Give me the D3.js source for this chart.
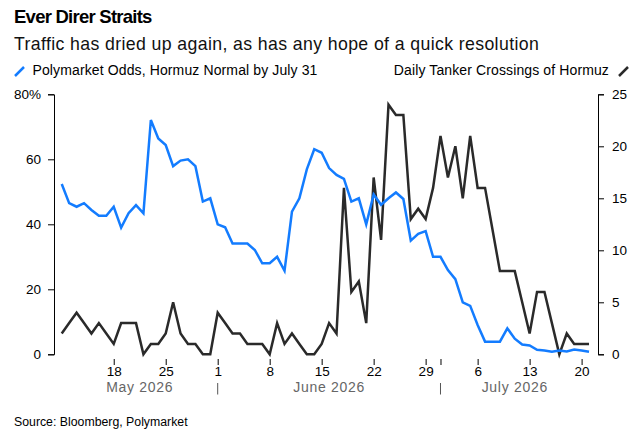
<!DOCTYPE html>
<html>
<head>
<meta charset="utf-8">
<script src="https://cdn.jsdelivr.net/npm/d3@7"></script>
<style>
  body { margin: 0; background: #fff; }
  svg { display: block; font-family: "Liberation Sans", Arial, sans-serif; }
</style>
</head>
<body>
<div id="chart"></div>
<script>
// daily observations, May 11 – July 21, 2026
const firstDay = new Date(2026, 4, 11);
const lastDay = new Date(2026, 6, 21);

// Polymarket odds (%) that Hormuz is back to normal by July 31
const odds = [
  52.4, 46.5, 45.4, 46.5, 44.4, 42.6, 42.6, 45.4, 39.0, 43.4, 45.9, 43.4,
  72.1, 66.4, 64.4, 57.9, 59.6, 60.0, 57.9, 47.0, 48.0, 40.0, 39.1, 34.1,
  34.1, 34.1, 32.1, 28.0, 28.0, 30.0, 25.7, 43.9, 48.0, 56.9, 63.1, 62.0,
  57.3, 55.2, 54.0, 47.0, 48.0, 40.0, 49.2, 46.0, 48.0, 49.8, 47.8, 35.0,
  37.1, 37.9, 30.0, 30.0, 25.9, 23.1, 16.0, 14.9, 9.0, 3.9, 3.9, 3.9,
  8.0, 4.8, 3.0, 2.7, 1.4, 1.2, 0.8, 1.2, 0.9, 1.5, 1.2, 0.8
];

// daily tanker crossings of Hormuz
const crossings = [
  2, 3, 4, 3, 2, 3, 2, 1, 3, 3, 3, 0,
  1, 1, 2, 5, 2, 1, 1, 0, 0, 4, 3, 2,
  2, 1, 1, 1, 0, 3, 1, 2, 1, 0, 0, 1,
  3, 2, 16, 6, 7, 3, 17, 11, 24, 23, 23, 13,
  14, 13, 16, 21, 17, 20, 15, 21, 16, 16, 12, 8,
  8, 8, 5, 2, 6, 6, 3, 0, 2, 1, 1, 1
];

const leftTicks = [0, 20, 40, 60, 80];
const rightTicks = [0, 5, 10, 15, 20, 25];
const months = [
  { label: "May 2026", start: new Date(2026, 4, 11), end: new Date(2026, 5, 1) },
  { label: "June 2026", start: new Date(2026, 5, 1), end: new Date(2026, 6, 1) },
  { label: "July 2026", start: new Date(2026, 6, 1), end: new Date(2026, 6, 21) }
];

const days = d3.timeDay.range(firstDay, d3.timeDay.offset(lastDay, 1));
const rows = days.map((d, i) => ({ date: d, odds: odds[i], crossings: crossings[i] }));

const W = 643, H = 433;
const svg = d3.select("#chart").append("svg")
  .attr("width", W).attr("height", H);

// titles
svg.append("text").attr("x", 14).attr("y", 22.7)
  .style("font-size", "18.5px").style("font-weight", "bold")
  .style("letter-spacing", "-0.75px").attr("fill", "#000")
  .text("Ever Direr Straits");
svg.append("text").attr("x", 14).attr("y", 50)
  .style("font-size", "17.7px").style("letter-spacing", "0.38px").attr("fill", "#111")
  .text("Traffic has dried up again, as has any hope of a quick resolution");

// legend
const blue = "#137cff", dark = "#2a2a2a";
svg.append("line").attr("x1", 15).attr("y1", 76).attr("x2", 24).attr("y2", 67)
  .attr("stroke", blue).attr("stroke-width", 2.5);
svg.append("text").attr("x", 32.5).attr("y", 75)
  .style("font-size", "14px").style("letter-spacing", "0.12px").attr("fill", "#000")
  .text("Polymarket Odds, Hormuz Normal by July 31");
svg.append("text").attr("x", 609).attr("y", 75).attr("text-anchor", "end")
  .style("font-size", "14px").style("letter-spacing", "0.12px").attr("fill", "#000")
  .text("Daily Tanker Crossings of Hormuz");
svg.append("line").attr("x1", 619).attr("y1", 76).attr("x2", 628).attr("y2", 67)
  .attr("stroke", dark).attr("stroke-width", 2.5);

// scales
const x = d3.scaleTime()
  .domain([new Date(2026, 4, 9, 23), new Date(2026, 6, 22, 5)])
  .range([54, 598]);
const yL = d3.scaleLinear().domain([0, 80]).range([354.3, 94.3]);
const yR = d3.scaleLinear().domain([0, 25]).range([354.3, 94.3]);

// axes
const axL = svg.append("g").attr("transform", "translate(54,0)")
  .call(d3.axisLeft(yL).tickValues(leftTicks).tickSize(6).tickPadding(7)
    .tickFormat(d => d === 80 ? "80%" : d));
const axR = svg.append("g").attr("transform", "translate(598,0)")
  .call(d3.axisRight(yR).tickValues(rightTicks).tickSize(6).tickPadding(8));
[axL, axR].forEach(g => {
  g.selectAll("text").style("font-size", "13.5px").attr("fill", "#000")
    .style("font-family", "Liberation Sans, Arial, sans-serif");
  g.selectAll("line, path").attr("stroke", "#000");
});

const mondays = d3.timeMonday.range(new Date(2026, 4, 12), lastDay);
const xTicks = mondays.concat([new Date(2026, 6, 1)]);
const axX = svg.append("g").attr("transform", "translate(0,359)")
  .call(d3.axisBottom(x).tickValues(xTicks).tickSize(6).tickPadding(1)
    .tickFormat(d => d.getDay() === 1 ? d.getDate() : ""));
axX.select(".domain").remove();
axX.selectAll("line").attr("stroke", "#000");
axX.selectAll("text").style("font-size", "13.5px").attr("fill", "#000")
  .style("font-family", "Liberation Sans, Arial, sans-serif");

// month labels and separators
svg.selectAll(".month").data(months).enter().append("text")
  .attr("class", "month")
  .attr("x", d => (x(d.start) + x(d.end)) / 2).attr("y", 392.3)
  .attr("text-anchor", "middle").style("font-size", "14px")
  .style("letter-spacing", "0.7px").attr("fill", "#666")
  .text(d => d.label);
svg.selectAll(".sep").data(months.slice(1)).enter().append("line")
  .attr("class", "sep")
  .attr("x1", d => x(d.start)).attr("x2", d => x(d.start))
  .attr("y1", 383).attr("y2", 394.5)
  .attr("stroke", "#555").attr("stroke-width", 1);

// lines
svg.append("path").datum(rows)
  .attr("fill", "none").attr("stroke", dark).attr("stroke-width", 2.5)
  .attr("stroke-linejoin", "miter")
  .attr("d", d3.line().x(d => x(d.date)).y(d => yR(d.crossings)));
svg.append("path").datum(rows)
  .attr("fill", "none").attr("stroke", blue).attr("stroke-width", 2.5)
  .attr("stroke-linejoin", "miter")
  .attr("d", d3.line().x(d => x(d.date)).y(d => yL(d.odds)));

// source
svg.append("text").attr("x", 14).attr("y", 426)
  .style("font-size", "12.3px").attr("fill", "#000")
  .text("Source: Bloomberg, Polymarket");
</script>
</body>
</html>
